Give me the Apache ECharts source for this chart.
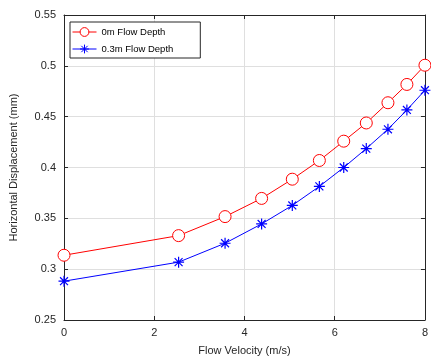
<!DOCTYPE html>
<html><head><meta charset="utf-8">
<script src="https://cdn.jsdelivr.net/npm/echarts@6/dist/echarts.min.js"></script>
<style>html,body{margin:0;padding:0;background:#fff}#c{width:431px;height:363px}</style>
</head><body><div id="c"></div>
<script>
var velocity = [0, 2.54, 3.57, 4.38, 5.06, 5.66, 6.2, 6.7, 7.18, 7.6, 8.0];
var depth0 = [0.3137, 0.333, 0.3517, 0.3696, 0.3885, 0.4069, 0.4259, 0.4438, 0.4637, 0.4817, 0.5006];
var depth03 = [0.2882, 0.3069, 0.3255, 0.3445, 0.3627, 0.3814, 0.4, 0.4186, 0.4376, 0.4566, 0.476];
var seriesNames = ['0m Flow Depth', '0.3m Flow Depth'];
var xName = 'Flow Velocity (m/s)';
var yName = 'Horizontal Displacement (mm)';

function pairs(xs, ys){ return xs.map(function(x,i){return [x, ys[i]];}); }
var star = 'path://M0,-5L0,5M-5,0L5,0M-3.6,-3.6L3.6,3.6M-3.6,3.6L3.6,-3.6';
var font = 'Liberation Sans, Arial, sans-serif';
var axisCol = '#262626';
var chart = echarts.init(document.getElementById('c'));
var baseAxis = {
  axisLine: {show: true, onZero: false, lineStyle: {color: axisCol, width: 1}},
  axisTick: {show: true, inside: true, length: 4, lineStyle: {color: axisCol}},
  splitLine: {show: true, lineStyle: {color: '#dfdfdf', width: 1}}
};
chart.setOption({
  animation: false,
  textStyle: {fontFamily: font},
  grid: {left: 64, top: 15, right: 1, bottom: 43, containLabel: false},
  legend: {
    left: 70, top: 22, orient: 'vertical', itemGap: 7,
    padding: [5, 27, 4, 2],
    borderColor: axisCol, borderWidth: 1, backgroundColor: '#fff',
    itemWidth: 24, itemHeight: 11,
    itemStyle: {borderWidth: 1},
    lineStyle: {width: 1},
    textStyle: {fontSize: 9.5, color: '#000', fontFamily: font},
    data: seriesNames
  },
  xAxis: [
    Object.assign({}, baseAxis, {
      type: 'value', min: 0, max: 8, interval: 2, position: 'bottom',
      name: xName, nameLocation: 'middle', nameGap: 25,
      nameTextStyle: {fontSize: 11, color: axisCol, fontFamily: font},
      axisLabel: {fontSize: 11, color: axisCol, margin: 7, fontFamily: font}
    }),
    Object.assign({}, baseAxis, {
      type: 'value', min: 0, max: 8, interval: 2, position: 'top',
      axisLabel: {show: false}, splitLine: {show: false}
    })
  ],
  yAxis: [
    Object.assign({}, baseAxis, {
      type: 'value', min: 0.25, max: 0.55, interval: 0.05, position: 'left',
      name: yName, nameLocation: 'middle', nameGap: 45,
      nameTextStyle: {fontSize: 11, color: axisCol, fontFamily: font},
      axisLabel: {fontSize: 11, color: axisCol, margin: 8, fontFamily: font}
    }),
    Object.assign({}, baseAxis, {
      type: 'value', min: 0.25, max: 0.55, interval: 0.05, position: 'right',
      axisLabel: {show: false}, splitLine: {show: false}
    })
  ],
  series: [
    {
      name: seriesNames[0], type: 'line', data: pairs(velocity, depth0),
      symbol: 'circle', symbolSize: 12, showAllSymbol: true,
      itemStyle: {color: '#ffffff', borderColor: '#ff0000', borderWidth: 1},
      lineStyle: {color: '#ff0000', width: 1}, z: 3
    },
    {
      name: seriesNames[1], type: 'line', data: pairs(velocity, depth03),
      symbol: star, symbolSize: 11, showAllSymbol: true,
      itemStyle: {color: '#0000ff', borderColor: '#0000ff', borderWidth: 1.2},
      lineStyle: {color: '#0000ff', width: 1}, z: 3
    }
  ]
});
</script></body></html>
